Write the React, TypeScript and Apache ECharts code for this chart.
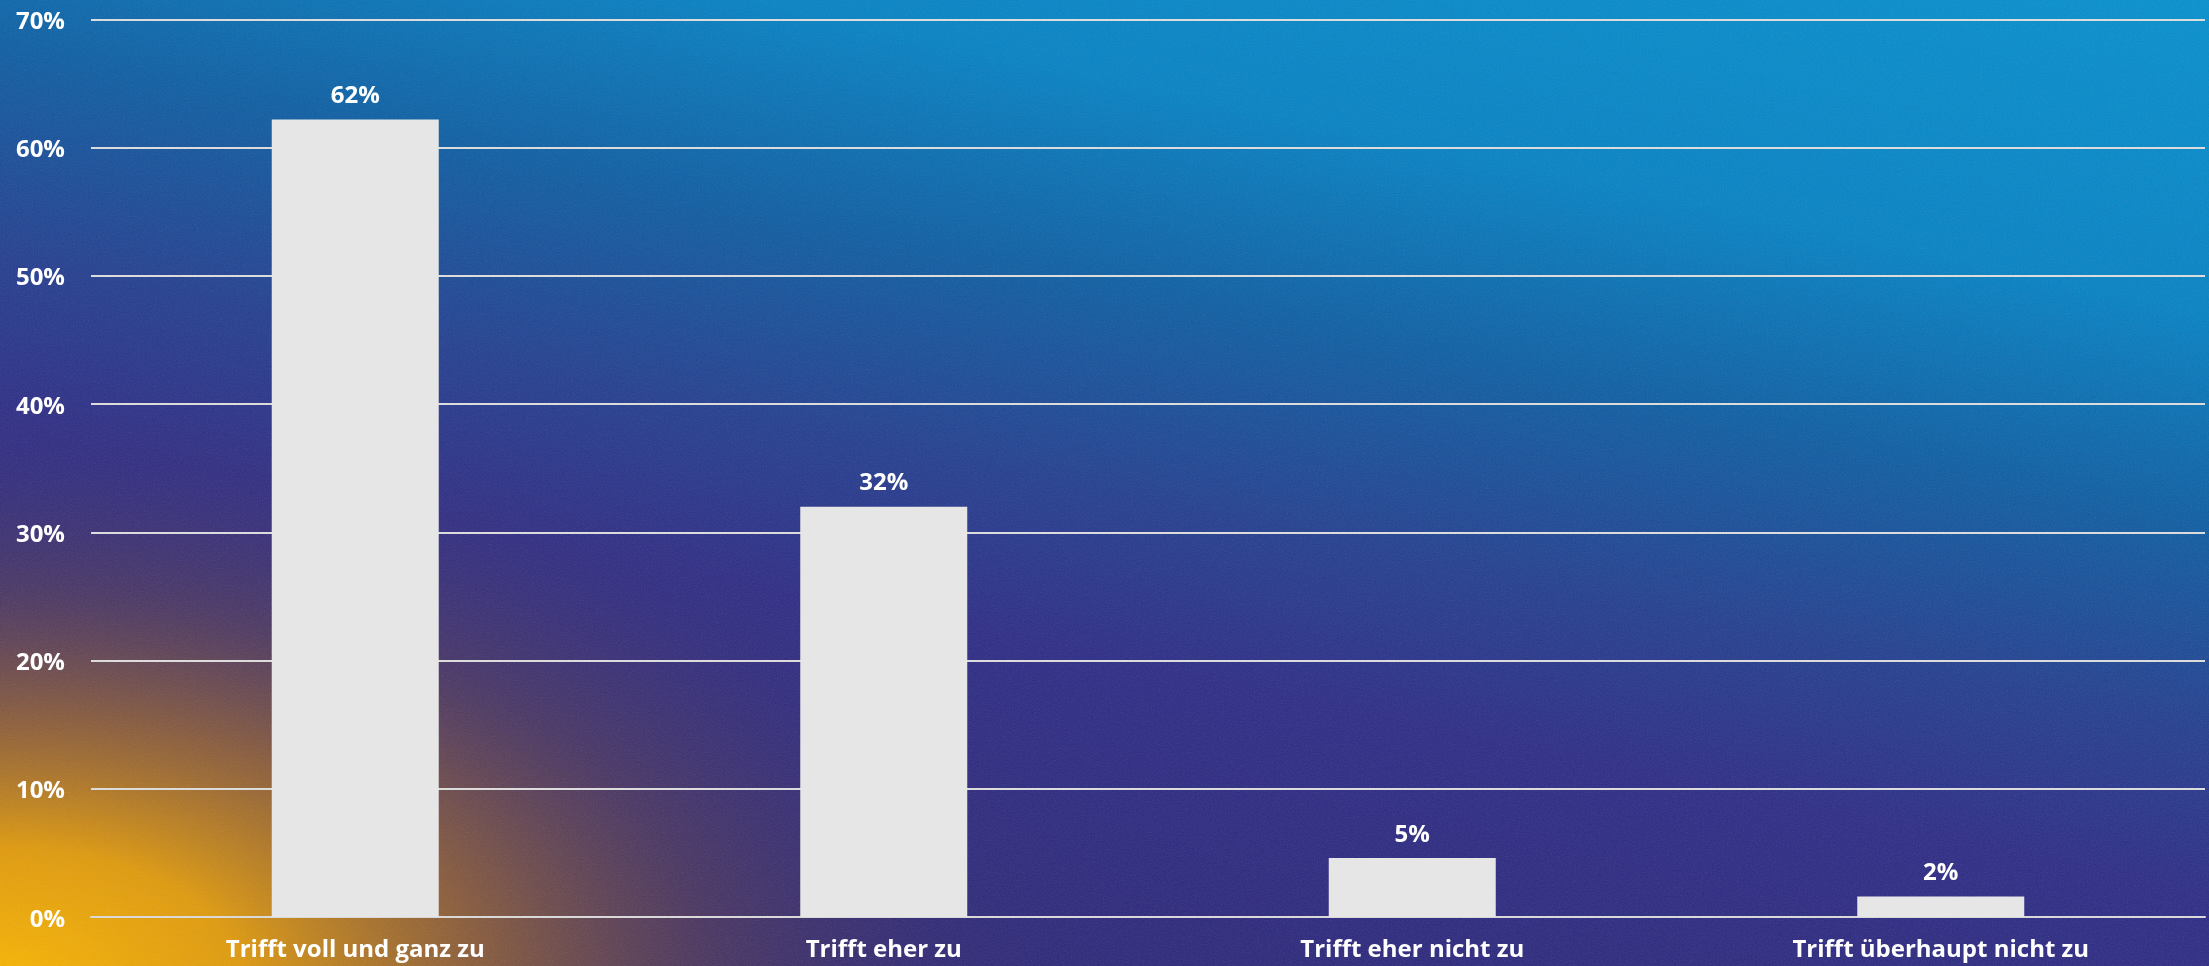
import React, { useEffect, useRef } from "react";
import * as echarts from "echarts";

const categories = [
  "Trifft voll und ganz zu",
  "Trifft eher zu",
  "Trifft eher nicht zu",
  "Trifft überhaupt nicht zu",
];
const values = [62.2, 32.0, 4.6, 1.6];
const yMin = 0;
const yMax = 70;
const yInterval = 10;

const W = 2209;
const H = 966;
const SY = 0.55;

const noiseSvg =
  "<svg xmlns='http://www.w3.org/2000/svg' width='" + W + "' height='" + H + "'>" +
  "<filter id='n'><feTurbulence type='fractalNoise' baseFrequency='0.75' numOctaves='2' stitchTiles='stitch'/>" +
  "<feColorMatrix type='saturate' values='0'/></filter>" +
  "<rect width='100%' height='100%' filter='url(#n)'/></svg>";
const noiseUrl = "data:image/svg+xml;charset=utf-8," + encodeURIComponent(noiseSvg);

export default function App() {
  const ref = useRef<HTMLDivElement>(null);
  useEffect(() => {
    if (!ref.current) return;
    const chart = echarts.init(ref.current, undefined, { renderer: "svg" });
    const font = "'Open Sans', 'Noto Sans', sans-serif";
    chart.setOption({
      animation: false,
      graphic: [
        {
          type: "rect",
          silent: true,
          z: -100,
          shape: { x: 0, y: 0, width: W, height: H },
          style: {
            fill: {
              type: "linear",
              global: true,
              x: 2200,
              y: -100,
              x2: 1900,
              y2: 1300,
              colorStops: [
                { offset: 0, color: "#0594d2" },
                { offset: 0.28, color: "#0582c4" },
                { offset: 0.42, color: "#0d5ea3" },
                { offset: 0.56, color: "#233f90" },
                { offset: 0.68, color: "#2d2b86" },
                { offset: 1, color: "#2b2573" },
              ],
            },
          },
        },
        {
          type: "rect",
          silent: true,
          z: -99,
          scaleY: SY,
          shape: { x: 0, y: 0, width: W, height: H / SY },
          style: {
            fill: {
              type: "radial",
              global: true,
              x: 0,
              y: 980 / SY,
              r: 1200,
              colorStops: [
                { offset: 0, color: "rgba(250,182,0,1)" },
                { offset: 0.2, color: "rgba(236,162,5,0.94)" },
                { offset: 0.4, color: "rgba(180,115,30,0.68)" },
                { offset: 0.6, color: "rgba(115,72,60,0.38)" },
                { offset: 0.8, color: "rgba(70,50,100,0.12)" },
                { offset: 1, color: "rgba(46,42,130,0)" },
              ],
            },
          },
        },
        {
          type: "image",
          silent: true,
          z: -98,
          style: { image: noiseUrl, x: 0, y: 0, width: W, height: H, opacity: 0.14 },
        },
      ],
      grid: { left: 91, right: 4, top: 19.5, bottom: 49, containLabel: false },
      xAxis: {
        type: "category",
        data: categories,
        axisLine: { show: true, lineStyle: { color: "#d9d9d9", width: 2 } },
        axisTick: { show: false },
        axisLabel: {
          color: "#ffffff",
          fontFamily: font,
          fontWeight: "bold",
          fontSize: 24,
          margin: 18,
        },
      },
      yAxis: {
        type: "value",
        min: yMin,
        max: yMax,
        interval: yInterval,
        axisLine: { show: false },
        axisTick: { show: false },
        splitLine: { lineStyle: { color: "#dcdcdc", width: 2 } },
        axisLabel: {
          color: "#ffffff",
          fontFamily: font,
          fontWeight: "bold",
          fontSize: 24,
          margin: 26,
          formatter: (v: number) => v + "%",
        },
      },
      series: [
        {
          type: "bar",
          data: values,
          barWidth: 167,
          itemStyle: { color: "#e6e6e6" },
          label: {
            show: true,
            position: "top",
            distance: 14,
            color: "#ffffff",
            fontFamily: font,
            fontWeight: "bold",
            fontSize: 24,
            formatter: (p: any) => Math.round(p.value) + "%",
          },
        },
      ],
    });
    return () => chart.dispose();
  }, []);
  return (
    <div
      ref={ref}
      style={{ position: "fixed", left: 0, top: 0, width: W, height: H }}
    />
  );
}
